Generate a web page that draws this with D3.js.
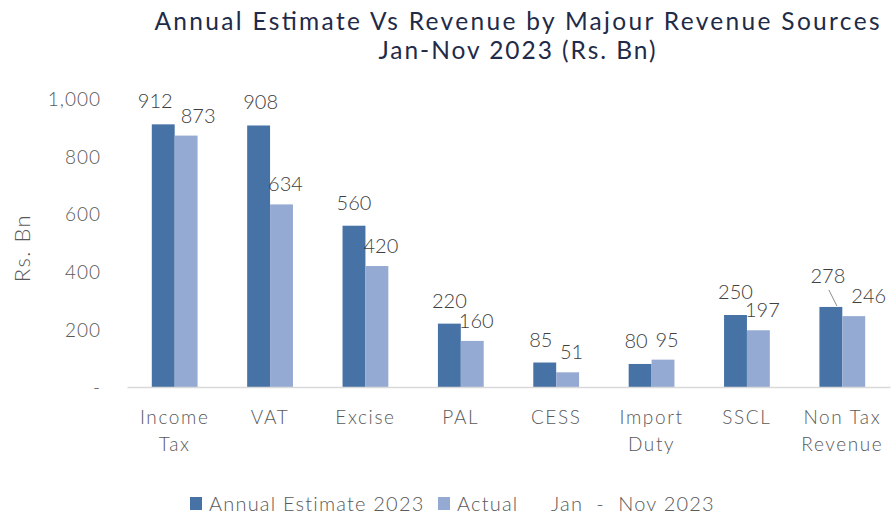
<!DOCTYPE html>
<html><head><meta charset="utf-8">
<script src="https://cdn.jsdelivr.net/npm/d3@7"></script>
<style>body{margin:0;background:#fff}svg{display:block}</style>
</head><body>
<svg id="c" width="894" height="515"></svg>
<script>
const categories = [["Income","Tax"],["VAT"],["Excise"],["PAL"],["CESS"],["Import","Duty"],["SSCL"],["Non Tax","Revenue"]];
const estimate = [912, 908, 560, 220, 85, 80, 250, 278];
const actual = [873, 634, 420, 160, 51, 95, 197, 246];
const yTicks = [0, 200, 400, 600, 800, 1000];
const seriesNames = ["Annual Estimate 2023", "Actual     Jan  -  Nov 2023"];
const titleLines = ["Annual Estimate Vs Revenue by Majour Revenue Sources", "Jan-Nov 2023 (Rs. Bn)"];
// label nudges (styling)
const estDx = [-8, 2, 0, 0, -4, -4, 0, -3];
const actDx = [12, 4, 4, 4, 4, 4, 4, 15];

const colors = ["#4672a6", "#95aad2"];
const font = "Lato, 'Open Sans', sans-serif";
const svg = d3.select("#c");

const x0 = d3.scaleBand().domain(d3.range(categories.length)).range([127, 890]).paddingInner(0.52).paddingOuter(0.26);
const x1 = d3.scaleBand().domain([0,1]).range([0, x0.bandwidth()]);
const y = d3.scaleLinear().domain([0, 1000]).range([387, 99]);

// title
const titleW = [725, 277];
svg.append("g").selectAll("text").data(titleLines).join("text")
  .attr("x", 517).attr("y", (d,i) => 30 + i*29)
  .attr("text-anchor", "middle").attr("font-family", font).attr("font-size", 24.5)
  .attr("textLength", (d,i) => titleW[i]).attr("lengthAdjust", "spacing")
  .attr("fill", "#1f2b48").text(d => d);

// y axis labels
const yAxis = d3.axisLeft(y).tickValues(yTicks).tickSize(0).tickPadding(0)
  .tickFormat(d => d === 0 ? "-" : d3.format(",")(d));
const ya = svg.append("g").attr("transform", "translate(101,0)").call(yAxis);
ya.select(".domain").remove();
ya.selectAll("text").attr("font-family", font).attr("font-weight", 300).attr("font-size", 19).attr("letter-spacing", 1).attr("fill", "#595959").attr("dy", "0.35em");

svg.append("text").attr("transform", "translate(30,248) rotate(-90)").attr("text-anchor", "middle")
  .attr("font-family", font).attr("font-weight", 300).attr("font-size", 22).attr("letter-spacing", 1.5).attr("fill", "#595959").text("Rs. Bn");

// bars
const data = categories.map((c,i) => ({i, vals:[estimate[i], actual[i]]}));
const groups = svg.append("g").selectAll("g").data(data).join("g").attr("transform", d => `translate(${x0(d.i)},0)`);
groups.selectAll("rect").data(d => d.vals.map((v,k)=>({v,k}))).join("rect")
  .attr("x", d => x1(d.k)).attr("width", x1.bandwidth()).attr("y", d => y(d.v)).attr("height", d => y(0) - y(d.v))
  .attr("fill", d => colors[d.k]);

// x axis
const xAxis = d3.axisBottom(x0).tickSize(0).tickFormat("");
const xa = svg.append("g").attr("transform", `translate(0,${y(0)})`).call(xAxis);
xa.select(".domain").attr("stroke", "#d9d9d9").attr("stroke-width", 1.5);
const xl = svg.append("g").selectAll("text").data(data).join("text")
  .attr("x", d => x0(d.i) + x0.bandwidth()/2).attr("y", 424)
  .attr("text-anchor", "middle").attr("font-family", font).attr("font-weight", 300).attr("font-size", 19).attr("letter-spacing", 1.6).attr("fill", "#595959");
xl.selectAll("tspan").data(d => categories[d.i].map(t => ({t, x: x0(d.i) + x0.bandwidth()/2}))).join("tspan")
  .attr("x", d => d.x).attr("dy", (d,j) => j ? 27 : 0).text(d => d.t);

// value labels
const lab = svg.append("g").attr("font-family", font).attr("font-weight", 300).attr("font-size", 20).attr("fill", "#404040").attr("text-anchor", "middle");
data.forEach(d => {
  const lift = d.i === 7 ? 24 : 16;
  lab.append("text").attr("x", x0(d.i) + x1(0) + x1.bandwidth()/2 + estDx[d.i]).attr("y", y(estimate[d.i]) - lift).text(estimate[d.i]);
  lab.append("text").attr("x", x0(d.i) + x1(1) + x1.bandwidth()/2 + actDx[d.i]).attr("y", y(actual[d.i]) - 13).text(actual[d.i]);
  if (d.i === 7) {
    const cx = x0(d.i) + x1(0) + x1.bandwidth()/2;
    svg.append("line").attr("x1", cx - 2).attr("y1", y(estimate[d.i]) - 17).attr("x2", cx + 6).attr("y2", y(estimate[d.i]) - 1)
      .attr("stroke", "#8c8c8c").attr("stroke-width", 1);
  }
});

// legend
const leg = svg.append("g").attr("font-family", font).attr("font-weight", 300).attr("font-size", 20).attr("letter-spacing", 1.2).attr("fill", "#595959");
const legX = [190, 438];
seriesNames.forEach((n,k) => {
  leg.append("rect").attr("x", legX[k]).attr("y", 497).attr("width", 12).attr("height", 13).attr("fill", colors[k]);
  leg.append("text").attr("x", legX[k] + 19).attr("y", 511).attr("xml:space", "preserve").style("white-space", "pre").text(n);
});
</script>
</body></html>
